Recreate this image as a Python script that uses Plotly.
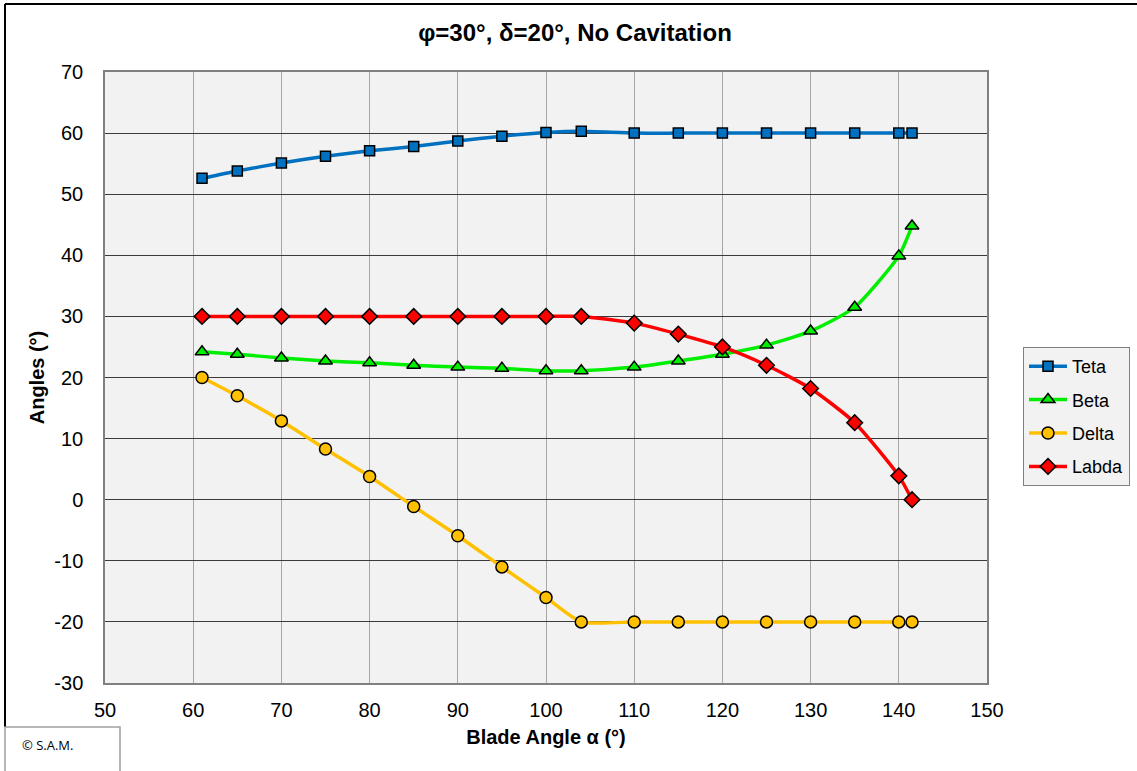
import plotly.graph_objects as go

# Blade angle (x) and the four computed angles
blade_angle = [61, 65, 70, 75, 80, 85, 90, 95, 100, 104, 110, 115, 120, 125, 130, 135, 140, 141.5]
teta = [52.6, 53.8, 55.1, 56.2, 57.1, 57.8, 58.7, 59.5, 60.1, 60.3, 60, 60, 60, 60, 60, 60, 60, 60]
beta = [24.2, 23.8, 23.2, 22.7, 22.4, 22.0, 21.7, 21.5, 21.1, 21.1, 21.7, 22.7, 23.8, 25.3, 27.6, 31.5, 39.9, 44.8]
delta = [20.0, 17.0, 12.9, 8.3, 3.8, -1.1, -5.9, -11.0, -16.0, -20, -20, -20, -20, -20, -20, -20, -20, -20]
labda = [30, 30, 30, 30, 30, 30, 30, 30, 30, 30, 28.9, 27.1, 25.0, 22.0, 18.2, 12.6, 3.9, 0.0]

x_ticks = [50, 60, 70, 80, 90, 100, 110, 120, 130, 140, 150]
y_ticks = [-30, -20, -10, 0, 10, 20, 30, 40, 50, 60, 70]

series = [
    ("Teta", teta, "#0070c0", "square", 10),
    ("Beta", beta, "#00ee00", "triangle-up", 12),
    ("Delta", delta, "#ffc000", "circle", 12),
    ("Labda", labda, "#ff0000", "diamond", 12),
]

fig = go.Figure()
for name, vals, color, symbol, size in series:
    fig.add_trace(go.Scatter(
        x=blade_angle, y=vals, name=name, legendgroup=name,
        mode="lines+markers",
        line=dict(color=color, width=3.5, shape="spline", smoothing=0.6),
        marker=dict(symbol=symbol, size=size, color=color,
                    line=dict(color="#000000", width=1.5)),
    ))

W, H = 1137, 771
L, R, T, B = 105, 150, 72, 88
pw, ph = W - L - R, H - T - B


def px(xp):
    return (xp - L) / pw


def py(yp):
    return (H - B - yp) / ph


font = "Liberation Sans, Arial, sans-serif"

fig.update_layout(
    width=W, height=H,
    margin=dict(l=L, r=R, t=T, b=B, autoexpand=False),
    paper_bgcolor="#ffffff",
    plot_bgcolor="#f2f2f2",
    font=dict(family=font, color="#000000", size=20),
    title=dict(text="<b>φ=30°, δ=20°, No Cavitation</b>",
               x=px(575), xref="paper", xanchor="center",
               y=1 - 33 / H, yref="container", yanchor="middle",
               font=dict(size=24, family=font, color="#000000")),
    xaxis=dict(range=[50, 150], tickvals=x_ticks, ticktext=[str(v) for v in x_ticks],
               showgrid=True, gridcolor="#a6a6a6", gridwidth=1, zeroline=False,
               showline=True, linecolor="#808080", linewidth=1.5, mirror=True,
               ticks="", ticklen=0, ticklabelstandoff=8, tickfont=dict(size=20),
               title=dict(text="<b>Blade Angle α (°)</b>", font=dict(size=20), standoff=10)),
    yaxis=dict(range=[-30, 70], tickvals=y_ticks, ticktext=[str(v) for v in y_ticks],
               showgrid=True, gridcolor="#3a3a3a", gridwidth=1, zeroline=False,
               showline=True, linecolor="#808080", linewidth=1.5, mirror=True,
               ticks="", ticklen=0, ticklabelstandoff=16, tickfont=dict(size=20),
               title=dict(text="<b>Angles (°)</b>", font=dict(size=20), standoff=4)),
    legend=dict(x=px(1023), y=py(347), xanchor="left", yanchor="top",
                bgcolor="#f2f2f2", bordercolor="#808080", borderwidth=1,
                font=dict(size=18, family=font), tracegroupgap=7,
                itemwidth=38),
    showlegend=True,
)

# Outer chart frame (top and left edges)
fig.add_shape(type="line", xref="paper", yref="paper",
              x0=px(5), x1=px(1140), y0=py(4), y1=py(4),
              line=dict(color="#000000", width=2))
fig.add_shape(type="line", xref="paper", yref="paper",
              x0=px(5), x1=px(5), y0=py(4), y1=py(727),
              line=dict(color="#000000", width=2))

# Copyright box
fig.add_shape(type="rect", xref="paper", yref="paper",
              x0=px(5), x1=px(120), y0=py(727), y1=py(780),
              line=dict(color="#a0a0a0", width=1.5), fillcolor="#ffffff")
fig.add_annotation(text="© S.A.M.", xref="paper", yref="paper",
                   x=px(20), y=py(745), xanchor="left", yanchor="middle",
                   showarrow=False, font=dict(size=13, family="Open Sans, sans-serif"))

fig.write_html("out.html")
